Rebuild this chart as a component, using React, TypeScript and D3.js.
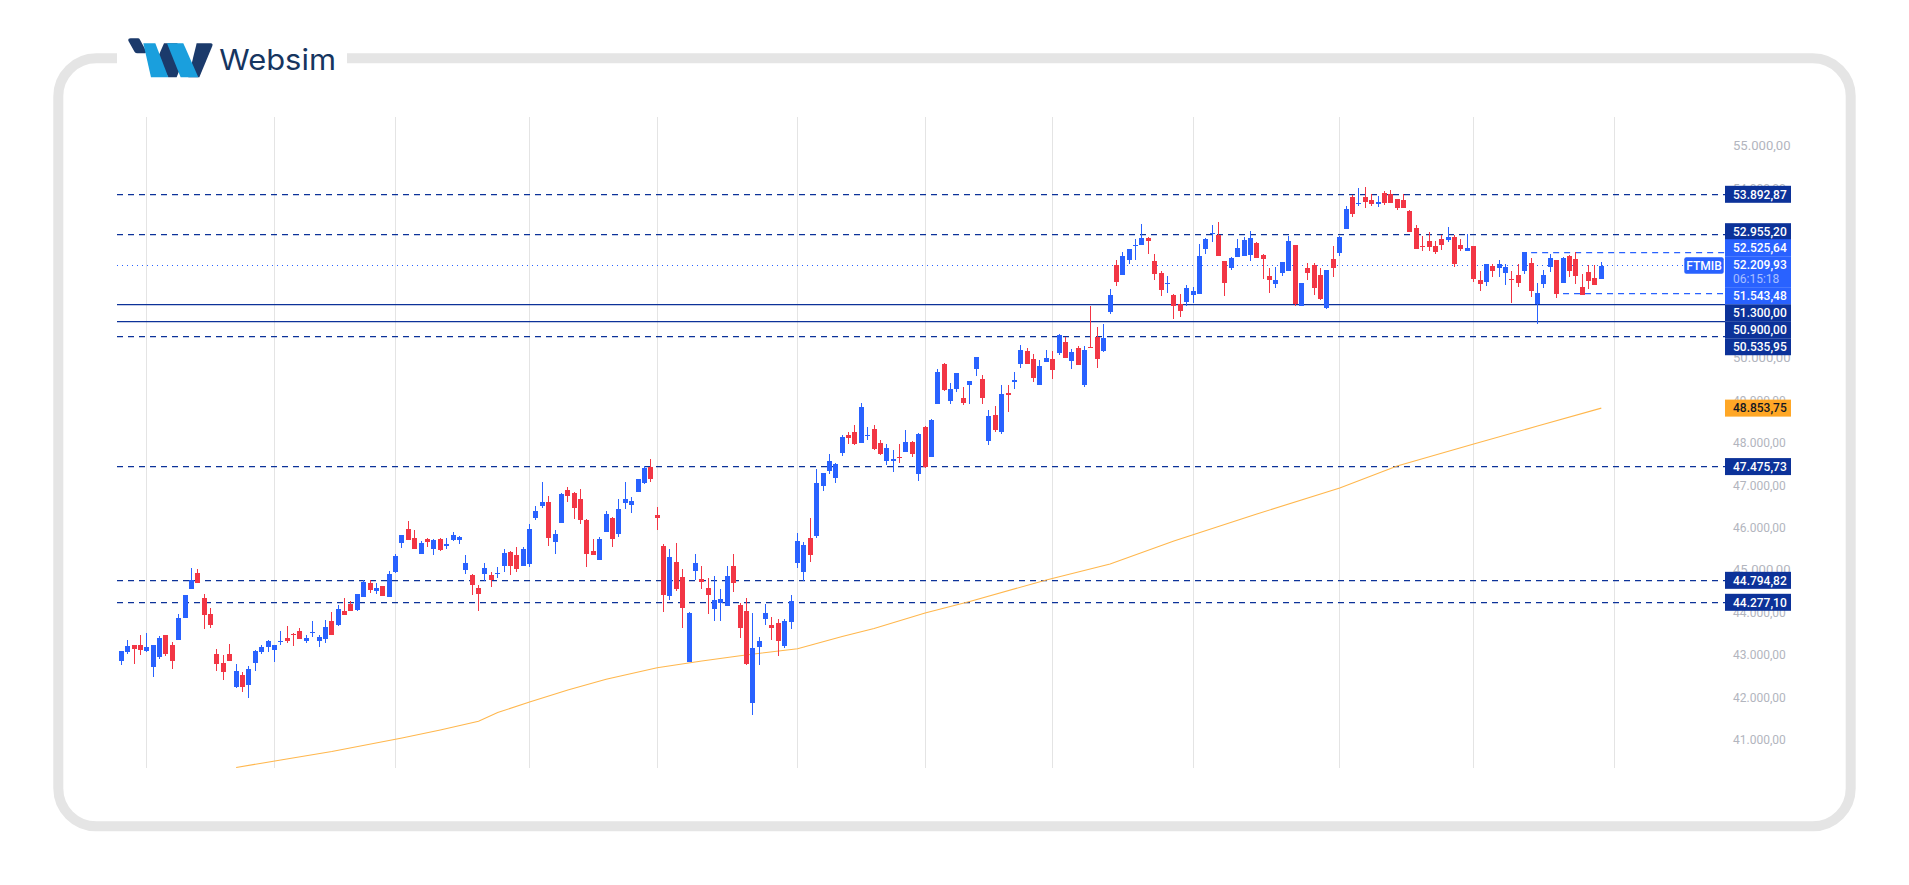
import * as d3 from 'd3';
import * as React from 'react';

const highs = [
  43129,43389,43271,43506,43554,43271,43483,43506,43342,44001,
  44449,45086,45062,44473,44143,43177,43035,43294,42823,42634,
  42776,43153,43271,43389,43271,43601,43719,43554,43671,43506,
  43836,43506,43860,44049,44214,44378,44308,44473,44803,44803,
  44732,44661,45015,45415,45863,46193,45981,45722,45793,45769,
  45793,45793,45934,45840,45392,44944,44685,45203,44991,45109,
  45533,45486,45580,45580,46123,46547,47112,46782,45981,46853,
  46995,46877,46947,46240,45769,45816,46429,46287,46712,47112,
  46759,47183,47490,47654,46523,45651,45533,45675,45062,44049,
  45415,45132,44850,44897,44590,45132,45415,44260,44378,44025,
  43459,44237,43931,43883,43883,44449,45910,45698,46264,47419,
  47325,47772,47560,48220,48291,48456,48974,48409,48456,48102,
  48008,47867,48008,48338,48079,48267,48432,48597,49776,49917,
  49446,49681,49352,49493,50059,49634,48810,48904,49399,49399,
  49705,50341,50271,50129,49988,50224,50200,50601,50530,50247,
  50318,50318,51261,50766,50836,51661,52345,52533,52604,52840,
  53193,52887,52486,52086,51968,51544,51544,51756,51709,52722,
  52863,53170,53240,52321,52416,52840,52887,53028,52769,52486,
  52156,52180,52298,52910,52698,51803,52274,52274,52156,52109,
  52675,52910,53618,53877,54042,54065,53900,53853,53971,53995,
  53783,53900,53523,53170,52910,53005,52793,52934,53123,52934,
  52840,52958,52675,52086,52251,52251,52345,52251,52086,52251,
  52533,52392,51803,52109,52486,52345,52416,52463,52533,52015,
  52227,52227,52298,
];

const lows = [
  42800,43059,42823,43035,43106,42517,42941,43012,42705,43389,
  43907,44591,44732,43648,43671,42658,42446,42894,42257,42163,
  42022,42658,43059,43106,42870,43271,43318,43247,43412,43318,
  43459,43224,43318,43506,43719,43978,44072,44072,44402,44496,
  44473,44426,44402,44968,45557,45746,45533,45415,45580,45392,
  45486,45533,45722,45651,44944,44449,44072,44779,44638,44850,
  44991,44921,44991,45133,45109,46217,46500,45604,45415,46146,
  46641,46240,46123,45109,45392,45274,45934,45580,45816,46476,
  46382,46877,47065,47112,45981,44049,44331,44543,43671,42870,
  44803,44590,44001,43836,43836,44190,44520,43436,42799,41621,
  42799,43742,43388,43011,43200,43648,45085,44779,45227,45793,
  46900,47301,47089,47725,48008,47985,48032,48102,47867,47749,
  47513,47348,47560,47820,47702,47136,47443,47702,48951,49257,
  48951,49234,48927,48951,49611,48951,47985,48291,48244,48762,
  49304,49799,49894,49469,49399,49941,49540,50106,50035,49776,
  49870,49352,50271,49799,50176,51072,51732,51991,52251,52345,
  52698,52486,51873,51496,51567,50954,51002,51261,51331,51544,
  52486,52769,52439,51496,52109,52416,52439,52321,52392,51897,
  51567,51685,51968,52086,51261,51261,51873,51520,51402,51190,
  51944,52439,53075,53358,53618,53570,53618,53594,53641,53688,
  53523,53570,53005,52604,52557,52557,52486,52581,52769,52180,
  52557,52557,51826,51614,51732,51944,51944,51756,51331,51709,
  52015,51473,50836,51685,52062,51449,51803,51944,51779,51520,
  51661,51756,51897,
];

const opens = [
  42894,43106,43271,43271,43129,42752,42988,43506,43271,43389,
  43907,44591,44968,44378,44001,43059,42847,43059,42281,42564,
  42328,42847,43106,43224,43153,43342,43436,43530,43601,43365,
  43554,43365,43412,43836,43742,44072,44237,44096,44402,44732,
  44543,44661,44402,44991,45675,46005,45793,45415,45769,45533,
  45769,45604,45746,45746,45038,44921,44614,44944,44921,44944,
  45133,45463,45392,45133,45180,46264,46547,46641,45698,46146,
  46924,46853,46712,46217,45486,45274,45934,46264,45887,46617,
  46570,46877,47089,47466,46335,45604,44426,45227,44873,42870,
  45015,44826,44614,44119,44260,44190,45132,44213,44072,41904,
  43223,43883,43742,43789,43247,43813,45203,44991,45792,45840,
  47018,47372,47207,47796,48220,48291,48032,48197,48362,48032,
  47608,47608,47702,47820,48055,47301,48409,47702,48951,49894,
  49022,49304,49092,49399,49776,49540,48079,48692,48291,49210,
  49469,49894,50200,50011,49399,49941,50011,50153,50412,49964,
  50271,49399,50294,50530,50200,51119,52227,51991,52345,52675,
  52698,52863,52321,52038,51779,51520,51308,51355,51520,51544,
  52604,52958,52934,52321,52156,52416,52439,52463,52746,52463,
  51968,51779,52038,52086,52698,51261,52156,52227,51991,51214,
  52368,52510,53075,53830,53665,53830,53759,53665,53924,53900,
  53783,53759,53500,53099,52675,52793,52675,52840,52816,52887,
  52698,52557,52675,51873,51826,52203,52156,52038,51897,51991,
  52086,52274,51308,51779,52180,52345,51803,52439,52368,51709,
  52062,51921,51897,
];

const closes = [
  43129,43247,43177,43153,43224,43271,43436,43059,42894,43907,
  44449,44803,44732,43978,43742,42823,42634,42894,42658,42281,
  42705,43129,43224,43365,43271,43365,43365,43506,43412,43436,
  43577,43459,43695,43506,44119,43978,44072,44473,44756,44567,
  44614,44426,44944,45368,45863,45746,45533,45675,45698,45746,
  45510,45651,45863,45816,45203,44685,44473,45086,44803,44968,
  45439,45133,45062,45533,46005,46429,46641,45793,45887,46830,
  46782,46500,46217,45415,45392,45769,46358,45769,46476,46712,
  46665,47183,47442,47183,46264,44449,45345,44591,44143,44025,
  45203,44755,44449,44331,44355,44897,44732,43671,42823,43200,
  43365,44025,43671,43365,43836,44308,45722,45627,45392,47089,
  47325,47608,47537,48173,48150,48008,48880,48220,47890,47772,
  47914,47655,47678,48055,47772,48244,47466,48574,49705,49281,
  49304,49681,48975,49493,50059,49092,48668,48338,49187,49163,
  49517,50224,49894,49564,49846,50035,49752,50577,50035,50176,
  49870,50224,50271,50011,50507,51520,51826,52439,52604,52698,
  52863,52793,52015,51638,51803,51261,51143,51685,51614,52439,
  52840,52981,52439,51803,52392,52628,52816,52863,52392,52368,
  51873,51873,52298,52793,51308,51803,52038,51685,51426,52109,
  52156,52887,53547,53429,53688,53712,53665,53712,53688,53688,
  53570,53570,53005,52604,52651,52651,52533,52698,52887,52250,
  52604,52628,51897,51779,52251,52086,52251,52180,51873,51803,
  52533,51614,51567,51991,52392,51544,52392,52086,51968,51520,
  51850,51756,52210,
];

// 200 period average, read at a few candles along the line
const maIndex = [18,25,33,44,50,56,59,64,70,76,84,91,97,106,108,113,118,126,133,145,155,165,178,191,200,212,222,232];
const maValues = [40384,40560,40761,41079,41267,41473,41678,41927,42210,42462,42736,42894,43018,43183,43264,43471,43659,44025,44296,44803,45180,45722,46358,46971,47489,48008,48432,48853.75];

const priceTicks = [55000,54000,50000,49000,48000,47000,46000,45000,44000,43000,42000,41000];
const gridCandles = [4,24,43,64,84,106,126,146,168,191,212,234];

const dashedLevels = [53892.87,52955.2,50535.95,47475.73,44794.82,44277.1];
const solidLevels = [51300,50900];
const lastPrice = 52209.93;
const sessionHigh = { value: 52525.64, from: 221 };
const sessionLow = { value: 51543.48, from: 226 };

const darkLabels = [53892.87,52955.2,51300,50900,50535.95,47475.73,44794.82,44277.1];
const darkShifts = [0,-2.4,8.4,8.4,10,0,0,0];
const blueLabels = [52525.64,52209.93,51543.48];
const blueShifts = [-4.6,-1,1.7];
const maLabel = 48853.75;
const countdown = '06:15:18';

const BLUE = '#2962FF';
const RED = '#F23645';
const NAVY = '#0C3299';
const ORANGE = '#FFA726';
const GRID = '#E4E4E4';
const FONT = 'Roboto, "Liberation Sans", sans-serif';

const plotLeft = 117;
const plotRight = 1725;
const plotTop = 117;
const plotBottom = 768;

const x = d3.scaleLinear().domain([0, 232]).range([121.3, 1601.3]);
const y = d3.scaleLinear().domain([53892.87, 44277.1]).range([194.3, 602.3]);

const fmt = d3.formatLocale({ decimal: ',', thousands: '.', grouping: [3], currency: ['', ''] }).format(',.2f');

const rowY = (p: number) => Math.floor(y(p)) + 0.5;

const maLine = d3
  .line<number>()
  .x((d) => x(d))
  .y((_, i) => y(maValues[i]));

const PriceTag = ({ value, shift, fill, color = '#fff', extra = 0 }: any) => {
  const c = y(value) + shift;
  return (
    <g>
      <rect x={1725} y={c - 8.5} width={66} height={17 + extra} fill={fill} />
      <text x={1733} y={c + 4.3} fontSize={12} fill={color} fontFamily={FONT} fontWeight={500}>
        {fmt(value)}
      </text>
    </g>
  );
};

const App = () => {
  return (
    <svg width={1909} height={885} style={{ position: 'absolute', left: 0, top: 0, display: 'block', background: '#fff' }}>
      <defs>
        <clipPath id="plot">
          <rect x={plotLeft} y={plotTop} width={plotRight - plotLeft} height={plotBottom - plotTop} />
        </clipPath>
      </defs>

      {/* frame */}
      <rect x={58.3} y={58.3} width={1792.4} height={768} rx={38} fill="none" stroke="#E5E5E5" strokeWidth={10} />
      <rect x={117} y={48} width={230} height={20} fill="#fff" />

      {/* logo */}
      <g transform="translate(40,20) scale(0.3333)">
        <path d="M265 62 Q264 55 272 55 L294 55 Q298 55 300 59 L318 92 Q320 100 312 100 L292 100 Q287 100 284 96 Z" fill="#1B3A6B" />
        <path d="M352 116 L372 70 L412 70 L432 116 L410 172 L385 172 Z" fill="#1B3A6B" />
        <path d="M470 70 L512 70 Q520 70 517 78 L478 172 L445 172 Z" fill="#1B3A6B" />
        <path d="M310 70 L346 70 L385 172 L333 172 Z" fill="#1A9FDD" />
        <path d="M381 70 L430 70 L475 172 L422 172 Z" fill="#1A9FDD" />
        <text x={538} y={150} fontSize={86} fill="#16355F" fontFamily='Inter, sans-serif' textLength={350} lengthAdjust="spacingAndGlyphs">
          Websim
        </text>
      </g>

      {/* vertical grid */}
      {gridCandles.map((c) => (
        <line key={c} x1={Math.floor(x(c)) + 0.5} x2={Math.floor(x(c)) + 0.5} y1={plotTop} y2={plotBottom} stroke={GRID} />
      ))}

      {/* price scale, the round 5000s are drawn larger */}
      {priceTicks.map((t) => (
        <text key={t} x={1733} y={y(t) + 2.8} fontSize={t % 5000 === 0 ? 13.1 : 12} fill="#B2B5BE" fontFamily={FONT}>
          {fmt(t)}
        </text>
      ))}

      {/* levels */}
      {dashedLevels.map((l) => (
        <line key={l} x1={plotLeft} x2={plotRight} y1={rowY(l)} y2={rowY(l)} stroke={NAVY} strokeWidth={1.25} strokeDasharray="6 5" />
      ))}
      {solidLevels.map((l) => (
        <line key={l} x1={plotLeft} x2={plotRight} y1={rowY(l)} y2={rowY(l)} stroke={NAVY} strokeWidth={1.25} />
      ))}
      <line x1={plotLeft} x2={1684} y1={rowY(lastPrice)} y2={rowY(lastPrice)} stroke={BLUE} strokeDasharray="1 4" />
      {[sessionHigh, sessionLow].map((s) => (
        <line key={s.value} x1={x(s.from)} x2={plotRight} y1={rowY(s.value)} y2={rowY(s.value)} stroke={BLUE} strokeWidth={1.25} strokeDasharray="6 5" />
      ))}

      {/* moving average */}
      <g clipPath="url(#plot)">
        <path d={maLine(maIndex) as string} fill="none" stroke="#FFB74D" strokeWidth={1.1} />
      </g>

      {/* candles */}
      <g shapeRendering="crispEdges">
        {closes.map((c, i) => {
          const color = c >= opens[i] ? BLUE : RED;
          const left = Math.round(x(i) - 0.5);
          const top = Math.round(y(Math.max(opens[i], c)));
          const bottom = Math.round(y(Math.min(opens[i], c)));
          const wickTop = Math.round(y(highs[i]));
          const wickBottom = Math.round(y(lows[i]));
          return (
            <g key={i} fill={color}>
              <rect x={left} y={wickTop} width={1} height={Math.max(1, wickBottom - wickTop)} />
              <rect x={left - 2} y={top} width={5} height={Math.max(1, bottom - top)} />
            </g>
          );
        })}
      </g>

      {/* labels on the scale */}
      <rect x={1684.3} y={257.3} width={39.4} height={16.4} rx={2} fill={BLUE} />
      <text x={1704} y={269.8} fontSize={12} fill="#fff" fontFamily={FONT} fontWeight={500} textAnchor="middle">
        FTMIB
      </text>
      <PriceTag value={maLabel} shift={0} fill={ORANGE} color="#131722" />
      {darkLabels.map((v, i) => (
        <PriceTag key={v} value={v} shift={darkShifts[i]} fill={NAVY} />
      ))}
      {blueLabels.map((v, i) => (
        <PriceTag key={v} value={v} shift={blueShifts[i]} fill={BLUE} extra={v === lastPrice ? 14 : 0} />
      ))}
      <text x={1733} y={282.8} fontSize={12} fill="#fff" fillOpacity={0.6} fontFamily={FONT}>
        {countdown}
      </text>
    </svg>
  );
};

export default App;
